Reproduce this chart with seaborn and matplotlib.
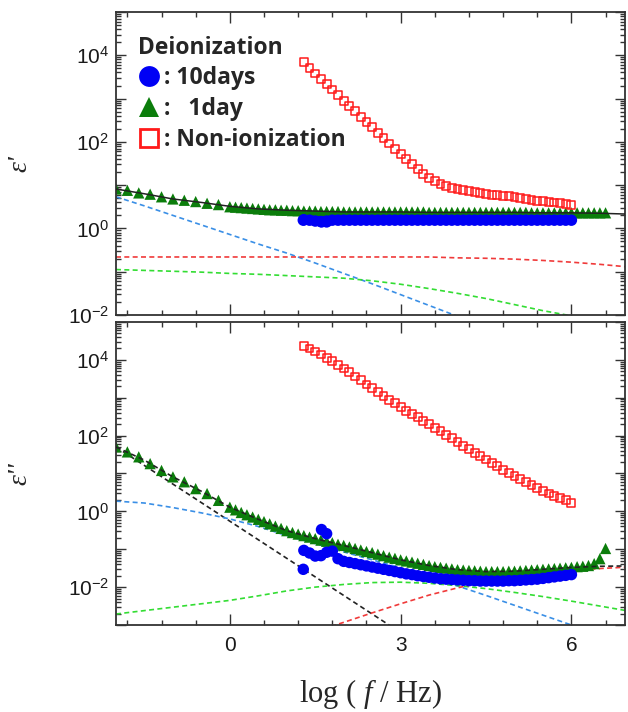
import numpy as np
import pandas as pd
import matplotlib
matplotlib.use('Agg')
import matplotlib.pyplot as plt
from matplotlib.lines import Line2D
from matplotlib.ticker import LogLocator, MultipleLocator, FuncFormatter, NullFormatter
import seaborn as sns

# ---------------- data (log10 values) ----------------
LOGF_1DAY_LOW = [-2.0, -1.8, -1.6, -1.4, -1.2, -1.0, -0.8, -0.6, -0.4, -0.2]
LOGF_1DAY = [0.0, 0.1, 0.2, 0.3, 0.4, 0.5, 0.6, 0.7, 0.8, 0.9,
             1.0, 1.1, 1.2, 1.3, 1.4, 1.5, 1.6, 1.7, 1.8, 1.9,
             2.0, 2.1, 2.2, 2.3, 2.4, 2.5, 2.6, 2.7, 2.8, 2.9,
             3.0, 3.1, 3.2, 3.3, 3.4, 3.5, 3.6, 3.7, 3.8, 3.9,
             4.0, 4.1, 4.2, 4.3, 4.4, 4.5, 4.6, 4.7, 4.8, 4.9,
             5.0, 5.1, 5.2, 5.3, 5.4, 5.5, 5.6, 5.7, 5.8, 5.9,
             6.0, 6.1, 6.2, 6.3, 6.4, 6.5, 6.6]
LOGF_HI = [1.3, 1.4, 1.5, 1.6, 1.7, 1.8, 1.9, 2.0, 2.1, 2.2,
           2.3, 2.4, 2.5, 2.6, 2.7, 2.8, 2.9, 3.0, 3.1, 3.2,
           3.3, 3.4, 3.5, 3.6, 3.7, 3.8, 3.9, 4.0, 4.1, 4.2,
           4.3, 4.4, 4.5, 4.6, 4.7, 4.8, 4.9, 5.0, 5.1, 5.2,
           5.3, 5.4, 5.5, 5.6, 5.7, 5.8, 5.9, 6.0]
LOGF_10D_EXTRA = [1.29, 1.61, 1.70]
LOGF_FIT = [-2.0, -1.5, -1.0, -0.5, 0.0, 0.5, 1.0, 1.5, 2.0, 2.5,
            3.0, 3.5, 4.0, 4.5, 5.0, 5.5, 6.0, 6.5, 7.0]
LOGF_FIT_RED2 = [1.5, 2.0, 2.5, 3.0, 3.5, 4.0, 4.5, 5.0, 5.5, 6.0, 6.5, 7.0]

# eps' (top panel)
EPS1_1DAY_LOW = [0.91, 0.88, 0.82, 0.79, 0.73, 0.68, 0.65, 0.62, 0.58, 0.55]
EPS1_1DAY = [0.50, 0.49, 0.48, 0.47, 0.46, 0.45, 0.44, 0.43, 0.43, 0.42,
             0.42, 0.41, 0.41, 0.40, 0.40, 0.40, 0.39, 0.39, 0.39, 0.39,
             0.38, 0.38, 0.38, 0.38, 0.38, 0.38, 0.38, 0.38, 0.38, 0.38,
             0.38, 0.38, 0.38, 0.38, 0.38, 0.37, 0.37, 0.37, 0.37, 0.37,
             0.37, 0.37, 0.37, 0.37, 0.37, 0.37, 0.37, 0.37, 0.37, 0.37,
             0.37, 0.37, 0.37, 0.36, 0.36, 0.36, 0.36, 0.36, 0.36, 0.36,
             0.36, 0.36, 0.36, 0.36, 0.36, 0.36, 0.36]
EPS1_10D = [0.20, 0.19, 0.17, 0.16, 0.17, 0.19, 0.19, 0.19, 0.19, 0.19,
            0.19, 0.19, 0.19, 0.19, 0.19, 0.19, 0.19, 0.19, 0.19, 0.19,
            0.19, 0.19, 0.19, 0.19, 0.19, 0.19, 0.19, 0.19, 0.19, 0.19,
            0.19, 0.19, 0.19, 0.19, 0.19, 0.19, 0.19, 0.19, 0.19, 0.19,
            0.19, 0.19, 0.19, 0.19, 0.19, 0.19, 0.19, 0.19]
EPS1_10D_EXTRA = [0.19, 0.15, 0.15]
EPS1_NONION = [3.84, 3.71, 3.58, 3.46, 3.33, 3.21, 3.08, 2.95, 2.83, 2.71,
               2.58, 2.46, 2.34, 2.21, 2.09, 1.96, 1.84, 1.72, 1.60, 1.48,
               1.37, 1.26, 1.17, 1.09, 1.03, 0.98, 0.94, 0.91, 0.88, 0.86,
               0.84, 0.82, 0.80, 0.78, 0.77, 0.75, 0.74, 0.72, 0.70, 0.68,
               0.66, 0.64, 0.63, 0.61, 0.60, 0.58, 0.57, 0.55]
FIT1_TOTAL = [0.91, 0.80, 0.68, 0.60, 0.51, 0.45, 0.42, 0.40, 0.38, 0.38,
              0.38, 0.37, 0.37, 0.37, 0.37, 0.36, 0.36, 0.35, 0.33]
FIT1_BLUE = [0.73, 0.52, 0.30, 0.08, -0.14, -0.36, -0.57, -0.80, -1.04, -1.28,
             -1.53, -1.78, -2.03, -2.28]
FIT1_RED = [-0.66, -0.66, -0.66, -0.66, -0.66, -0.66, -0.66, -0.66, -0.66, -0.66,
            -0.66, -0.66, -0.68, -0.69, -0.71, -0.74, -0.78, -0.83, -0.89]
FIT1_GREEN = [-0.95, -0.97, -0.99, -1.01, -1.04, -1.06, -1.09, -1.12, -1.15, -1.21,
              -1.29, -1.39, -1.50, -1.62, -1.76, -1.90, -2.02, -2.15, -2.28]

# eps'' (bottom panel)
EPS2_1DAY_LOW = [1.70, 1.57, 1.44, 1.26, 1.08, 0.91, 0.78, 0.60, 0.47, 0.29]
EPS2_1DAY = [0.11, 0.04, -0.03, -0.09, -0.15, -0.21, -0.27, -0.33, -0.39, -0.45,
             -0.51, -0.56, -0.60, -0.64, -0.68, -0.72, -0.76, -0.79, -0.83, -0.87,
             -0.90, -0.94, -0.98, -1.02, -1.06, -1.09, -1.13, -1.17, -1.21, -1.24,
             -1.28, -1.31, -1.34, -1.37, -1.40, -1.43, -1.46, -1.48, -1.50, -1.52,
             -1.54, -1.55, -1.56, -1.57, -1.58, -1.59, -1.59, -1.59, -1.59, -1.58,
             -1.58, -1.57, -1.56, -1.55, -1.54, -1.53, -1.52, -1.51, -1.50, -1.49,
             -1.48, -1.46, -1.45, -1.43, -1.38, -1.25, -0.98]
EPS2_10D = [-1.03, -1.10, -1.18, -1.17, -1.08, -1.05, -1.25, -1.32, -1.35, -1.38,
            -1.41, -1.44, -1.47, -1.50, -1.53, -1.56, -1.59, -1.62, -1.65, -1.67,
            -1.70, -1.72, -1.74, -1.76, -1.78, -1.79, -1.80, -1.81, -1.82, -1.83,
            -1.83, -1.84, -1.84, -1.84, -1.84, -1.84, -1.83, -1.83, -1.82, -1.81,
            -1.80, -1.79, -1.77, -1.75, -1.73, -1.71, -1.69, -1.67]
EPS2_10D_EXTRA = [-1.53, -0.48, -0.59]
EPS2_NONION = [4.37, 4.30, 4.22, 4.14, 4.06, 3.97, 3.87, 3.77, 3.67, 3.56,
               3.46, 3.35, 3.25, 3.15, 3.05, 2.95, 2.85, 2.75, 2.66, 2.57,
               2.48, 2.39, 2.30, 2.21, 2.12, 2.02, 1.93, 1.83, 1.73, 1.64,
               1.55, 1.46, 1.37, 1.28, 1.19, 1.10, 1.01, 0.93, 0.85, 0.77,
               0.69, 0.61, 0.54, 0.47, 0.41, 0.35, 0.29, 0.23]
FIT2_TOTAL = [1.70, 1.35, 0.91, 0.53, 0.11, -0.21, -0.51, -0.72, -0.90, -1.09,
              -1.28, -1.43, -1.54, -1.59, -1.58, -1.53, -1.48, -1.45, -1.44]
FIT2_DC = [1.70, 1.21, 0.72, 0.23, -0.26, -0.75, -1.24, -1.73, -2.22, -2.71, -3.20]
FIT2_BLUE = [0.27, 0.22, 0.10, -0.04, -0.20, -0.40, -0.64, -0.85, -1.07, -1.28,
             -1.49, -1.72, -1.97, -2.22, -2.48, -2.74, -3.00, -3.26]
FIT2_GREEN = [-2.71, -2.62, -2.53, -2.44, -2.35, -2.23, -2.10, -2.00, -1.93, -1.88,
              -1.87, -1.90, -1.96, -2.04, -2.14, -2.25, -2.37, -2.50, -2.63]
FIT2_RED = [-3.17, -2.93, -2.68, -2.44, -2.21, -2.02, -1.85, -1.72, -1.62, -1.56,
            -1.51, -1.47]

LEGEND_TITLE = "Deionization"
LEGEND_LABELS = [": 10days", ":   1day", ": Non-ionization"]
Y_TICK_EXP_LABELLED = [-2, 0, 2, 4]

# ---------------- style ----------------
sns.set_theme(style='ticks')
plt.rcParams['font.family'] = ['Liberation Sans', 'DejaVu Sans']
plt.rcParams['mathtext.fontset'] = 'custom'
plt.rcParams['mathtext.rm'] = 'Liberation Sans'
plt.rcParams['mathtext.it'] = 'Liberation Serif:italic'
plt.rcParams['mathtext.bf'] = 'Liberation Sans:bold'

C_BLUE, C_GREEN, C_RED = '#0000F5', '#0B7D0B', '#FF1A1A'
CL_BLUE, CL_GREEN, CL_RED, CL_BLACK = '#3A8FE6', '#33DD33', '#F03A3A', '#222222'

fig = plt.figure(figsize=(6.28, 7.12), dpi=100)
ax1 = fig.add_axes([0.1847, 0.5576, 0.8113, 0.4256])
ax2 = fig.add_axes([0.1847, 0.1222, 0.8113, 0.4256])


def lin(v):
    return [10 ** a for a in v]


def dashed(ax, x, y, color, z=1):
    sns.lineplot(x=x[:len(y)], y=lin(y), ax=ax, color=color, linewidth=1.2,
                 sort=True, estimator=None, zorder=z)
    ax.lines[-1].set_dashes([3, 2])


def scatter_set(ax, low, dense, tenday, tenday_extra, nonion):
    sns.scatterplot(x=LOGF_1DAY_LOW + LOGF_1DAY, y=lin(low + dense), ax=ax,
                    marker='^', s=66, color=C_GREEN, edgecolor='none', linewidth=0, zorder=2)
    sns.scatterplot(x=LOGF_HI + LOGF_10D_EXTRA, y=lin(tenday + tenday_extra), ax=ax,
                    marker='o', s=68, color=C_BLUE, edgecolor='none', linewidth=0, zorder=2.2)
    sns.scatterplot(x=LOGF_HI, y=lin(nonion), ax=ax, marker='s', s=32,
                    color=C_RED, linewidth=1.1, zorder=2.1)
    coll = ax.collections[-1]
    coll.set_facecolor('none')
    coll.set_edgecolor(C_RED)


for ax in (ax1, ax2):
    ax.set_yscale('log')

# top panel
dashed(ax1, LOGF_FIT, FIT1_BLUE, CL_BLUE)
dashed(ax1, LOGF_FIT, FIT1_RED, CL_RED)
dashed(ax1, LOGF_FIT, FIT1_GREEN, CL_GREEN)
scatter_set(ax1, EPS1_1DAY_LOW, EPS1_1DAY, EPS1_10D, EPS1_10D_EXTRA, EPS1_NONION)
sns.lineplot(x=LOGF_FIT, y=lin(FIT1_TOTAL), ax=ax1, color=CL_BLACK, linewidth=1.1, zorder=3)

# bottom panel
dashed(ax2, LOGF_FIT, FIT2_DC, CL_BLACK)
dashed(ax2, LOGF_FIT, FIT2_BLUE, CL_BLUE)
dashed(ax2, LOGF_FIT, FIT2_GREEN, CL_GREEN)
dashed(ax2, LOGF_FIT_RED2, FIT2_RED, CL_RED)
scatter_set(ax2, EPS2_1DAY_LOW, EPS2_1DAY, EPS2_10D, EPS2_10D_EXTRA, EPS2_NONION)
dashed(ax2, LOGF_FIT, FIT2_TOTAL, CL_BLACK, z=3)


def yfmt(v, pos):
    e = int(round(np.log10(v)))
    return r'$\mathdefault{10^{%d}}$' % e if e in Y_TICK_EXP_LABELLED else ''


for ax in (ax1, ax2):
    ax.set_xlim(-2.0, 6.95)
    ax.xaxis.set_major_locator(MultipleLocator(3))
    ax.xaxis.set_minor_locator(MultipleLocator(0.6))
    ax.yaxis.set_major_locator(LogLocator(base=10, numticks=20))
    ax.yaxis.set_minor_locator(LogLocator(base=10, subs=np.arange(2, 10), numticks=20))
    ax.yaxis.set_major_formatter(FuncFormatter(yfmt))
    ax.yaxis.set_minor_formatter(NullFormatter())
    ax.tick_params(which='both', direction='in', top=True, right=True, width=1.0,
                   color='#333333', labelcolor='#1a1a1a', labelsize=15)
    ax.tick_params(axis='y', which='major', length=7, pad=5)
    ax.tick_params(axis='x', which='major', length=8, pad=8)
    ax.tick_params(which='minor', length=3.5)
    for s in ax.spines.values():
        s.set_linewidth(1.3)
        s.set_color('#333333')
    ax.set_xlabel('')
    ax.grid(False)

ax1.set_ylim(1e-2, 1e5)
ax2.set_ylim(1e-3, 1e5)
ax1.tick_params(labelbottom=False)

ax1.set_ylabel("ε'", family='Liberation Serif', style='italic', fontsize=20)
ax1.yaxis.set_label_coords(-0.165, 0.5)
ax2.set_ylabel("ε''", family='Liberation Serif', style='italic', fontsize=20)
ax2.yaxis.set_label_coords(-0.165, 0.5)
ax2.set_xlabel(r'log ( $f$ / Hz)', family='Liberation Serif', fontsize=22)
ax2.xaxis.set_label_coords(0.5, -0.17)

handles = [
    Line2D([], [], linestyle='none', marker='o', markersize=15, color=C_BLUE, markeredgewidth=0),
    Line2D([], [], linestyle='none', marker='^', markersize=15, color=C_GREEN, markeredgewidth=0),
    Line2D([], [], linestyle='none', marker='s', markersize=12.5, markerfacecolor='white',
           markeredgecolor=C_RED, markeredgewidth=2),
]
LEG_FONT = {'family': 'Open Sans', 'weight': 'bold', 'size': 16.5}
leg = ax1.legend(handles, LEGEND_LABELS, title=LEGEND_TITLE, loc='upper left',
                 bbox_to_anchor=(0.043, 0.922), frameon=False, handlelength=1.0,
                 handletextpad=0.12, labelspacing=0.3, borderpad=0, borderaxespad=0,
                 alignment='left', prop=LEG_FONT, title_fontproperties=LEG_FONT)

fig.savefig('out.png', dpi=100)
